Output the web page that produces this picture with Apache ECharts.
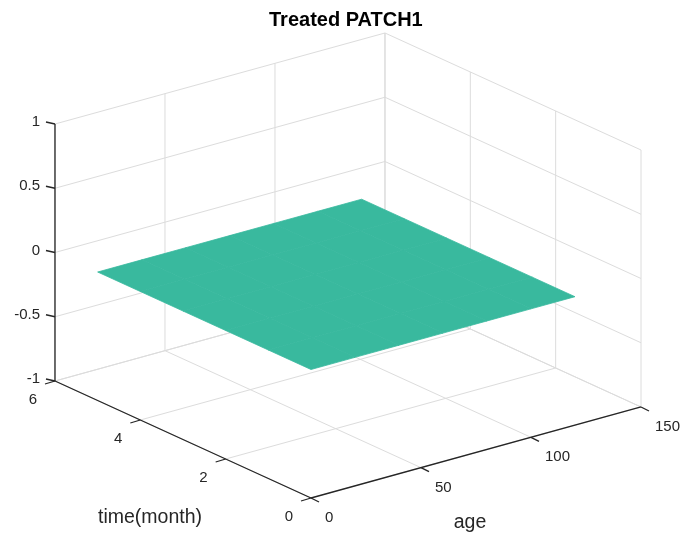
<!DOCTYPE html>
<html>
<head>
<meta charset="utf-8">
<title>Treated PATCH1</title>
<script src="https://cdn.jsdelivr.net/npm/echarts@6/dist/echarts.min.js"></script>
<style>
  html, body { margin: 0; padding: 0; background: #fff; }
  #chart { width: 685px; height: 537px; }
</style>
</head>
<body>
<div id="chart"></div>
<script>
  // axis ticks
  const AGE_TICKS = [0, 50, 100, 150];
  const TIME_TICKS = [0, 2, 4, 6];
  const Z_TICKS = [-1, -0.5, 0, 0.5, 1];
  const AGE_LABELS = ["0", "50", "100", "150"];
  const TIME_LABELS = ["0", "2", "4", "6"];
  const Z_LABELS = ["-1", "-0.5", "0", "0.5", "1"];

  // surface mesh (age x time), all zero
  const SURF_AGE = [0, 20, 40, 60, 80, 100, 120];
  const SURF_TIME = [0, 1, 2, 3, 4, 5];
  const SURF_Z = [
    [0, 0, 0, 0, 0, 0, 0],
    [0, 0, 0, 0, 0, 0, 0],
    [0, 0, 0, 0, 0, 0, 0],
    [0, 0, 0, 0, 0, 0, 0],
    [0, 0, 0, 0, 0, 0, 0],
    [0, 0, 0, 0, 0, 0, 0],
  ];

  const FONT = '"Liberation Sans", Arial, Helvetica, sans-serif';
  const INK = "#262626";
  const GRID = "#dcdcdc";
  const SURFACE = "#39b99e";

  // oblique view: origin = (age 0, time 0, z -1)
  const VIEW = { ox: 311, oy: 498, ax: 2.2, ay: -0.6067, tx: -42.67, ty: -19.5, zy: 128.5 };

  function project(age, time, z) {
    return [
      VIEW.ox + VIEW.ax * age + VIEW.tx * time,
      VIEW.oy + VIEW.ay * age + VIEW.ty * time - VIEW.zy * (z + 1),
    ];
  }

  const AGE_MIN = AGE_TICKS[0], AGE_MAX = AGE_TICKS[AGE_TICKS.length - 1];
  const TIME_MIN = TIME_TICKS[0], TIME_MAX = TIME_TICKS[TIME_TICKS.length - 1];
  const Z_MIN = Z_TICKS[0], Z_MAX = Z_TICKS[Z_TICKS.length - 1];

  // grid segments on the back walls and floor: [a1, t1, z1, a2, t2, z2]
  const gridSegs = [];
  AGE_TICKS.forEach((a) => {
    gridSegs.push([a, TIME_MAX, Z_MIN, a, TIME_MAX, Z_MAX]);
    gridSegs.push([a, TIME_MIN, Z_MIN, a, TIME_MAX, Z_MIN]);
  });
  TIME_TICKS.forEach((t) => {
    gridSegs.push([AGE_MAX, t, Z_MIN, AGE_MAX, t, Z_MAX]);
    gridSegs.push([AGE_MIN, t, Z_MIN, AGE_MAX, t, Z_MIN]);
  });
  Z_TICKS.forEach((z) => {
    gridSegs.push([AGE_MIN, TIME_MAX, z, AGE_MAX, TIME_MAX, z]);
    gridSegs.push([AGE_MAX, TIME_MIN, z, AGE_MAX, TIME_MAX, z]);
  });

  const axisSegs = [
    [AGE_MIN, TIME_MAX, Z_MIN, AGE_MIN, TIME_MAX, Z_MAX],
    [AGE_MIN, TIME_MIN, Z_MIN, AGE_MIN, TIME_MAX, Z_MIN],
    [AGE_MIN, TIME_MIN, Z_MIN, AGE_MAX, TIME_MIN, Z_MIN],
  ];

  const surfCells = [];
  for (let i = 0; i < SURF_TIME.length - 1; i++) {
    for (let j = 0; j < SURF_AGE.length - 1; j++) surfCells.push([i, j]);
  }

  // tick marks + labels: [age, time, z, kind, index]
  const tickItems = [];
  Z_TICKS.forEach((z, k) => tickItems.push([AGE_MIN, TIME_MAX, z, 0, k]));
  TIME_TICKS.forEach((t, k) => tickItems.push([AGE_MIN, t, Z_MIN, 1, k]));
  AGE_TICKS.forEach((a, k) => tickItems.push([a, TIME_MIN, Z_MIN, 2, k]));

  const TICK_DIR = [[-9, -2], [-10, 3], [8, 4]];
  const LABEL_STYLE = [
    { dx: -15, dy: -2, align: "right", text: Z_LABELS },
    { dx: -18, dy: 19, align: "right", text: TIME_LABELS },
    { dx: 14, dy: 20, align: "left", text: AGE_LABELS },
  ];

  function segRender(color, width) {
    return function (params, api) {
      const p1 = api.coord(project(api.value(0), api.value(1), api.value(2)));
      const p2 = api.coord(project(api.value(3), api.value(4), api.value(5)));
      return {
        type: "line",
        shape: { x1: p1[0], y1: p1[1], x2: p2[0], y2: p2[1] },
        style: { stroke: color, lineWidth: width },
        silent: true,
      };
    };
  }

  const chart = echarts.init(document.getElementById("chart"), null, { renderer: "canvas" });

  chart.setOption({
    backgroundColor: "#fff",
    animation: false,
    title: {
      text: "Treated PATCH1",
      left: 269,
      top: 10,
      padding: 0,
      textStyle: { fontFamily: FONT, fontSize: 20, fontWeight: "bold", color: "#000" },
    },
    grid: { left: 0, right: 0, top: 0, bottom: 0 },
    xAxis: { type: "value", min: 0, max: 685, show: false },
    yAxis: { type: "value", min: 0, max: 537, inverse: true, show: false },
    series: [
      {
        type: "custom",
        z: 1,
        data: gridSegs,
        renderItem: segRender(GRID, 1),
      },
      {
        type: "custom",
        z: 2,
        data: surfCells,
        renderItem(params, api) {
          const i = api.value(0), j = api.value(1);
          const corners = [
            [SURF_AGE[j], SURF_TIME[i], SURF_Z[i][j]],
            [SURF_AGE[j + 1], SURF_TIME[i], SURF_Z[i][j + 1]],
            [SURF_AGE[j + 1], SURF_TIME[i + 1], SURF_Z[i + 1][j + 1]],
            [SURF_AGE[j], SURF_TIME[i + 1], SURF_Z[i + 1][j]],
          ].map((c) => api.coord(project(c[0], c[1], c[2])));
          return {
            type: "polygon",
            shape: { points: corners },
            style: { fill: SURFACE, stroke: SURFACE, lineWidth: 0.8 },
            silent: true,
          };
        },
      },
      {
        type: "custom",
        z: 3,
        data: axisSegs,
        renderItem: segRender(INK, 1.3),
      },
      {
        type: "custom",
        z: 4,
        data: tickItems,
        renderItem(params, api) {
          const kind = api.value(3), k = api.value(4);
          const p = api.coord(project(api.value(0), api.value(1), api.value(2)));
          const d = TICK_DIR[kind];
          const ls = LABEL_STYLE[kind];
          return {
            type: "group",
            children: [
              {
                type: "line",
                shape: { x1: p[0], y1: p[1], x2: p[0] + d[0], y2: p[1] + d[1] },
                style: { stroke: INK, lineWidth: 1.3 },
              },
              {
                type: "text",
                x: p[0] + ls.dx,
                y: p[1] + ls.dy,
                style: {
                  text: ls.text[k],
                  fill: INK,
                  font: "15px " + FONT,
                  align: ls.align,
                  verticalAlign: "middle",
                },
              },
            ],
            silent: true,
          };
        },
      },
      {
        type: "custom",
        z: 4,
        data: [[0, 3, -1, -33, 78, "time(month)"], [75, 0, -1, -6, 70, "age"]],
        renderItem(params, api) {
          const p = api.coord(project(api.value(0), api.value(1), api.value(2)));
          return {
            type: "text",
            x: p[0] + api.value(3),
            y: p[1] + api.value(4),
            style: {
              text: api.value(5),
              fill: INK,
              font: "19.5px " + FONT,
              align: "center",
              verticalAlign: "middle",
            },
            silent: true,
          };
        },
      },
    ],
  });
</script>
</body>
</html>
